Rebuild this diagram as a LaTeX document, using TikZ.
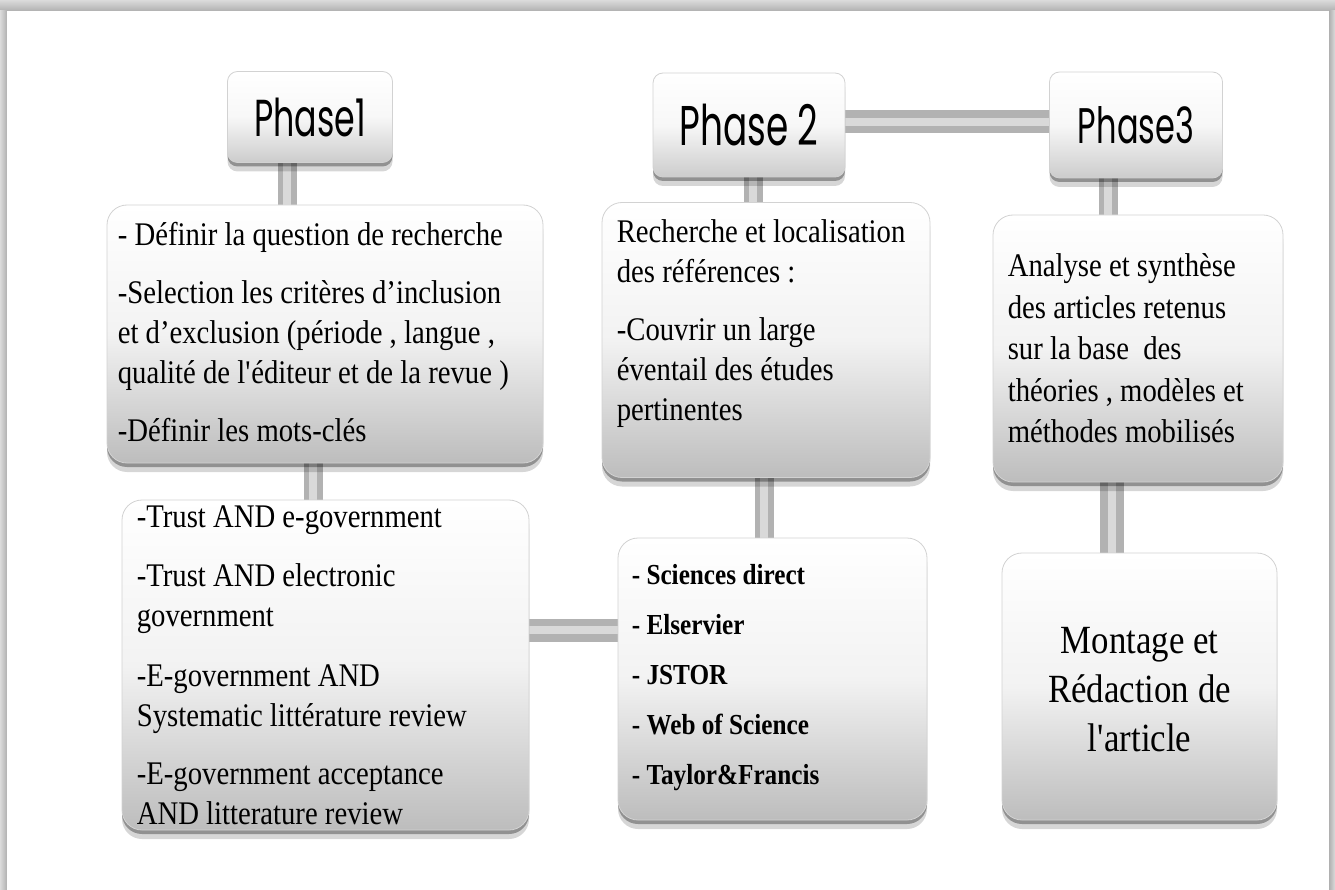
\documentclass[tikz,border=0pt]{standalone}
\usepackage{fontspec}
\setmainfont{Liberation Serif}[FakeStretch=0.87]
\newfontfamily\phasefont{Poppins}[FakeStretch=0.64]
\usetikzlibrary{shadows,backgrounds,calc}
\tikzset{
  shA/.style={drop shadow={shadow xshift=0pt, shadow yshift=-4pt, opacity=0.32, fill=black}},
  shB/.style={drop shadow={shadow xshift=0pt, shadow yshift=-9pt, opacity=0.16, fill=black}},
  pbox/.style={rounded corners=10pt, draw=gray!35, line width=0.8pt,
    top color=white, bottom color=gray!40, middle color=white!94!gray,
    inner sep=0pt, shA, shB, font=\phasefont},
  cbox/.style={rounded corners=20pt, draw=gray!35, line width=0.8pt,
    top color=white, bottom color=gray!52, middle color=white!90!gray,
    inner sep=0pt, shA, shB},
  txt/.style={anchor=north west, inner sep=0pt, align=left,
    font=\fontsize{33}{40}\selectfont},
  pipe/.style={line width=19pt, draw=gray!60,
    postaction={draw=gray!30, line width=8pt}},
}
\begin{document}
\begin{tikzpicture}[x=1pt,y=-1pt]
\useasboundingbox (0,0) rectangle (1335,890);
% page frame
\begin{scope}[on background layer]
  \fill[gray!45] (0,0) rectangle (1335,890);
  \shade[top color=gray!28, bottom color=gray!62] (0,0) rectangle (1335,11);
  \shade[left color=gray!28, right color=gray!62] (0,11) rectangle (7,890);
  \shade[left color=gray!62, right color=gray!28] (1329,11) rectangle (1335,890);
  \fill[white] (7,11) rectangle (1329,890);
\end{scope}

% phase headers
\node[pbox, minimum width=165pt, minimum height=91pt, font=\phasefont\fontsize{52}{60}\selectfont] (p1) at (310,117) {Phase1};
\node[pbox, minimum width=192pt, minimum height=104pt, font=\phasefont\fontsize{56}{64}\selectfont] (p2) at (749,125) {Phase 2};
\node[pbox, minimum width=173pt, minimum height=106pt, font=\phasefont\fontsize{50}{58}\selectfont] (p3) at (1136,125) {Phase3};

% content boxes
\node[cbox, minimum width=436pt, minimum height=258pt] (b1) at (325,334) {};
\node[cbox, minimum width=407pt, minimum height=330pt] (b2) at (325.5,665) {};
\node[cbox, minimum width=328pt, minimum height=275pt] (b3) at (766,340) {};
\node[cbox, minimum width=309pt, minimum height=282pt] (b4) at (772.5,679) {};
\node[cbox, minimum width=290pt, minimum height=267pt] (b5) at (1138,348.5) {};
\node[cbox, minimum width=275pt, minimum height=267pt] (b6) at (1139.5,686.5) {};

% texts
\node[txt] (t1) at ($(b1.north west)+(11,17)$) {%
- Définir la question de recherche\\[18pt]
-Selection les critères d’inclusion\\
et d’exclusion (période , langue ,\\
qualité de l\textquotesingle éditeur et de la revue )\\[18pt]
-Définir les mots-clés};

\node[txt] (t2) at ($(b2.north west)+(15,6)$) {%
-Trust AND e-government\\[19pt]
-Trust AND electronic\\
government\\[20pt]
-E-government AND\\
Systematic littérature review\\[18pt]
-E-government acceptance\\
AND litterature review};

\node[txt] (t3) at ($(b3.north west)+(15,17)$) {%
Recherche et localisation\\
des références :\\[18pt]
-Couvrir un large\\
éventail des études\\
pertinentes};

\node[txt, font=\fontsize{29}{50}\selectfont\bfseries] (t4) at ($(b4.north west)+(14,27)$) {%
- Sciences direct\\
- Elservier\\
- JSTOR\\
- Web of Science\\
- Taylor\&Francis};

\node[txt, font=\fontsize{33}{41.5}\selectfont] (t5) at ($(b5.north west)+(15,39)$) {%
Analyse et synthèse\\
des articles retenus\\
sur la base\ \ des\\
théories , modèles et\\
méthodes mobilisés};

\node[inner sep=0pt, align=center, font=\fontsize{40}{49}\selectfont] (t6) at ($(b6.center)+(0,3)$) {%
Montage et\\
Rédaction de\\
l\textquotesingle article};

% connectors (pipes)
\coordinate (x1) at (287,0);
\coordinate (x2) at (313,0);
\coordinate (x3) at (753,0);
\coordinate (x4) at (764,0);
\coordinate (x5) at (1108,0);
\coordinate (x6) at (1112,0);
\coordinate (y1) at (0,122);
\coordinate (y2) at (0,630);
\begin{scope}[on background layer]
  \draw[pipe] ($(p1.south -| x1)+(0,-6)$) -- ($(b1.north -| x1)+(0,6)$);
  \draw[pipe] ($(b1.south -| x2)+(0,-6)$) -- ($(b2.north -| x2)+(0,6)$);
  \draw[pipe] ($(p2.south -| x3)+(0,-6)$) -- ($(b3.north -| x3)+(0,6)$);
  \draw[pipe] ($(b3.south -| x4)+(0,-6)$) -- ($(b4.north -| x4)+(0,6)$);
  \draw[pipe] ($(p3.south -| x5)+(0,-6)$) -- ($(b5.north -| x5)+(0,6)$);
  \draw[pipe, line width=24pt] ($(b5.south -| x6)+(0,-6)$) -- ($(b6.north -| x6)+(0,6)$);
  \draw[pipe, line width=23pt] ($(p2.east |- y1)+(-6,0)$) -- ($(p3.west |- y1)+(6,0)$);
  \draw[pipe, line width=23pt] ($(b2.east |- y2)+(-6,0)$) -- ($(b4.west |- y2)+(6,0)$);
\end{scope}
\end{tikzpicture}
\end{document}
